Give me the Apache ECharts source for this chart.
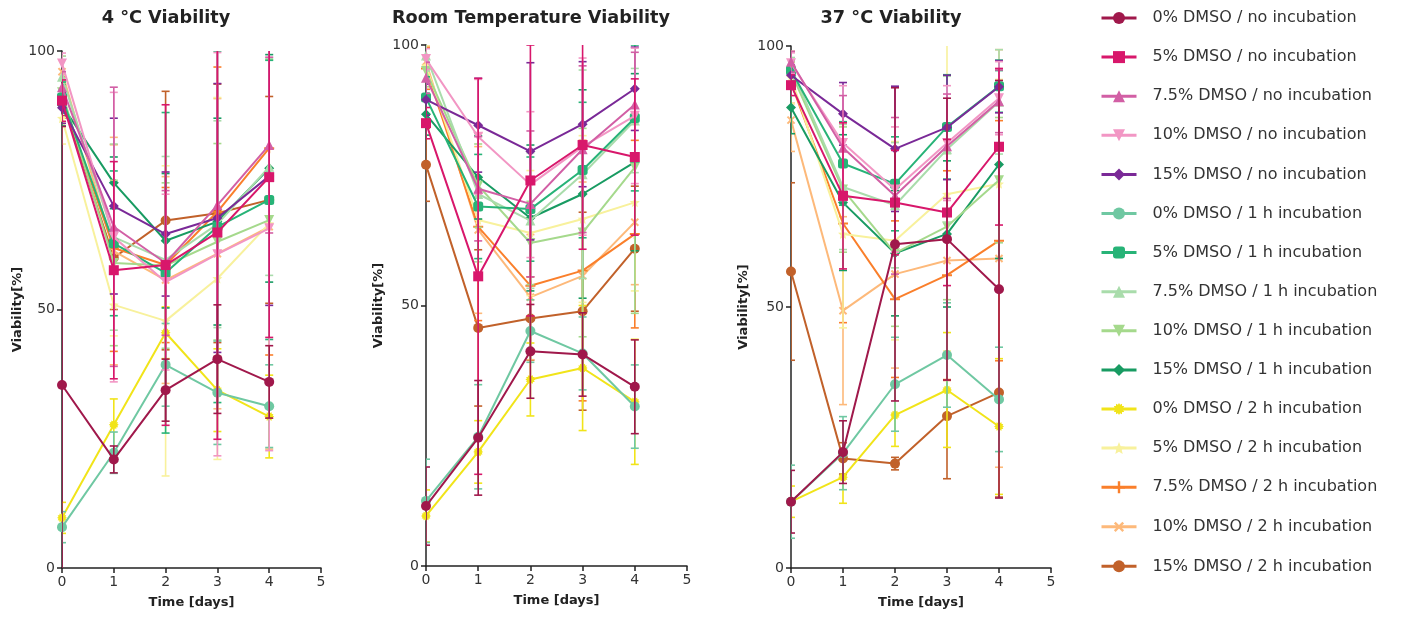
<!DOCTYPE html>
<html><head><meta charset="utf-8">
<script src="https://cdn.jsdelivr.net/npm/echarts@6/dist/echarts.min.js"></script>
<style>html,body{margin:0;padding:0;background:#fff}#c{width:1402px;height:617px}</style>
</head><body><div id="c"></div>
<script>
const days = [0, 1, 2, 3, 4];
const seriesNames = [
  '0% DMSO / no incubation', '5% DMSO / no incubation', '7.5% DMSO / no incubation',
  '10% DMSO / no incubation', '15% DMSO / no incubation',
  '0% DMSO / 1 h incubation', '5% DMSO / 1 h incubation', '7.5% DMSO / 1 h incubation',
  '10% DMSO / 1 h incubation', '15% DMSO / 1 h incubation',
  '0% DMSO / 2 h incubation', '5% DMSO / 2 h incubation', '7.5% DMSO / 2 h incubation',
  '10% DMSO / 2 h incubation', '15% DMSO / 2 h incubation'
];
const panelTitles = ['4 °C Viability', 'Room Temperature Viability', '37 °C Viability'];
const yTicks = [0, 50, 100];
const xTicks = [0, 1, 2, 3, 4, 5];

// 4 °C panel: means and error (±)
const coldMean = [
  [35.4, 21, 34.4, 40.4, 36],
  [90.4, 57.6, 58.6, 64.9, 75.6],
  [93, 66, 59, 70.2, 81.8],
  [97.6, 64, 55.3, 60.7, 65.7],
  [89, 70, 64.6, 67.7, 75.8],
  [7.9, 22.3, 39.3, 33.9, 31.3],
  [91, 62.8, 57.1, 66, 71.2],
  [95, 64, 59.6, 66.5, 77.6],
  [92, 59, 58.5, 63.1, 67.3],
  [89.5, 74.5, 63.3, 67, 77.3],
  [9.7, 27.7, 45.5, 34.4, 29.3],
  [87, 50.9, 47.8, 56, 66.6],
  [91, 61.9, 58.6, 68.9, 81.2],
  [96, 61.3, 55.7, 60.8, 66],
  [90.5, 60, 67.2, 68.6, 71.2]
];
const coldErr = [
  [50, 2.6, 6, 10.5, 7],
  [4, 21, 31, 40, 31],
  [3, 27, 14, 30, 17],
  [2, 28, 17, 39, 43],
  [3, 17, 12, 26, 25],
  [3, 4, 8, 10, 8],
  [3, 14, 31, 34, 27],
  [4, 18, 20, 20, 21],
  [4, 16, 16, 19, 31],
  [4, 5, 13, 20, 22],
  [3, 5, 5, 8, 8],
  [5, 6, 30, 35, 35],
  [4, 20, 15, 28, 40],
  [3, 22, 20, 30, 43],
  [3, 10, 25, 25, 20]
];
// Room temperature panel
const rtMean = [
  [11.5, 24.6, 41.2, 40.6, 34.4],
  [85, 55.6, 74, 80.8, 78.5],
  [93.7, 72.4, 69.5, 80, 88.6],
  [97.3, 82.4, 73.2, 80.5, 86.4],
  [89.5, 84.6, 79.6, 84.8, 91.6],
  [12.5, 24.8, 45.1, 40.8, 30.6],
  [89.9, 69, 68.5, 76, 86],
  [98, 71.4, 66.3, 75.2, 85.5],
  [95, 73, 62, 64, 76.5],
  [86.7, 74.6, 66.8, 71.4, 77.5],
  [9.6, 21.9, 35.8, 38, 31.5],
  [96, 66.4, 63.9, 66.6, 69.8],
  [95.5, 65.1, 53.8, 56.7, 63.7],
  [96.8, 64.5, 51.6, 55.7, 66],
  [77, 45.7, 47.5, 48.9, 60.9]
];
const rtErr = [
  [7.5, 11, 9, 8, 9],
  [3, 38, 26, 20, 15],
  [3, 10, 14, 16, 10],
  [2, 11, 14, 17, 13],
  [3, 9, 17, 12, 8],
  [8, 10, 6, 7, 8],
  [4, 10, 10, 13, 14],
  [3, 13, 13, 20, 10],
  [3, 8, 8, 20, 28],
  [4, 8, 14, 20, 17],
  [5, 6, 7, 12, 12],
  [4, 8, 12, 16, 17],
  [4, 18, 13, 25, 18],
  [3, 16, 12, 18, 12],
  [7, 15, 8, 19, 12]
];
// 37 °C panel
const warmMean = [
  [12.7, 22.2, 62, 63, 53.4],
  [92.5, 71.3, 70, 68.1, 80.7],
  [97, 80.5, 71.3, 80.8, 89.4],
  [96.7, 81.4, 72.5, 81.4, 90],
  [94.4, 87, 80.3, 84.4, 92.2],
  [12.7, 22, 35.2, 40.8, 32.3],
  [95.3, 77.5, 73.6, 84.5, 92.3],
  [95.8, 73, 69.5, 80.2, 89.3],
  [95, 72.5, 60.3, 65.4, 74.3],
  [88.2, 70, 60.3, 64, 77.3],
  [12.7, 17.4, 29.3, 34.1, 27.1],
  [94, 64, 62.7, 71.6, 73.6],
  [93, 66, 51.5, 56.1, 62.7],
  [85.8, 49.3, 56.3, 58.9, 59.3],
  [56.8, 21, 20, 29.1, 33.6]
];
const warmErr = [
  [6, 6, 30, 27, 40],
  [2, 14, 10, 14, 15],
  [2, 10, 15, 10, 6],
  [2, 11, 12, 11, 7],
  [2, 6, 12, 10, 5],
  [7, 7, 9, 10, 10],
  [2, 8, 9, 10, 5],
  [2, 12, 12, 14, 10],
  [2, 12, 14, 14, 12],
  [5, 13, 12, 14, 18],
  [3, 5, 6, 11, 13],
  [5, 18, 19, 30, 20],
  [4, 19, 15, 20, 23],
  [6, 18, 18, 23, 40],
  [17, 3, 1.2, 12, 20]
];

const colors = ['#a0184b', '#d8176b', '#d25fa5', '#f296c4', '#7a2997',
  '#6fc8a2', '#27b377', '#a9dcab', '#a5d98c', '#189b62',
  '#f1e419', '#f8f19c', '#fa7f2b', '#fdb97a', '#c1612a'];

function starPath(n, ri) {
  let d = '';
  for (let k = 0; k < 2 * n; k++) {
    const r = k % 2 === 0 ? 10 : 10 * ri;
    const a = Math.PI * k / n - Math.PI / 2;
    d += (k === 0 ? 'M' : 'L') + (10 + r * Math.cos(a)).toFixed(2) + ',' + (10 + r * Math.sin(a)).toFixed(2);
  }
  return 'path://' + d + 'Z';
}
const plusPath = 'path://M8,0h4v8h8v4h-8v8h-4v-8h-8v-4h8z';
const symbols = ['circle', 'rect', 'triangle', 'triangle', 'diamond',
  'circle', 'roundRect', 'triangle', 'triangle', 'diamond',
  starPath(12, 0.72), starPath(5, 0.45), plusPath, plusPath, 'circle'];
const rotates = [0, 0, 0, 180, 0, 0, 0, 0, 180, 0, 0, 0, 0, 45, 0];

const panels = [
  {mean: coldMean, err: coldErr, left: 62, width: 259, top: 51, height: 517, titleX: 161, nameGap: 38},
  {mean: rtMean, err: rtErr, left: 426, width: 261, top: 45, height: 521, titleX: 526, nameGap: 41},
  {mean: warmMean, err: warmErr, left: 791, width: 260, top: 46, height: 522, titleX: 886, nameGap: 41}
];

const FONT = 'DejaVu Sans';
const axisCommon = {
  axisLine: {show: true, lineStyle: {color: '#222', width: 1.5}},
  axisTick: {show: true, length: 5, lineStyle: {color: '#222', width: 1.5}},
  axisLabel: {color: '#333', fontSize: 14, fontFamily: FONT, margin: 7},
  splitLine: {show: false},
  nameTextStyle: {color: '#222', fontSize: 13, fontWeight: 'bold', fontFamily: FONT}
};

const grid = [], xAxis = [], yAxis = [], series = [], title = [];
panels.forEach((p, pi) => {
  grid.push({left: p.left, width: p.width, top: p.top, height: p.height});
  title.push({text: panelTitles[pi], left: p.titleX, top: 4, textAlign: 'center',
    textStyle: {fontSize: 17.7, fontWeight: 'bold', color: '#222', fontFamily: FONT}});
  xAxis.push(Object.assign({}, axisCommon, {
    type: 'value', gridIndex: pi, min: xTicks[0], max: xTicks[xTicks.length - 1], interval: 1,
    name: 'Time [days]', nameLocation: 'middle', nameGap: 28
  }));
  yAxis.push(Object.assign({}, axisCommon, {
    type: 'value', gridIndex: pi, min: yTicks[0], max: yTicks[yTicks.length - 1], interval: 50,
    name: 'Viability[%]', nameLocation: 'middle', nameGap: p.nameGap
  }));
  seriesNames.forEach((nm, si) => {
    const col = colors[si];
    const mean = p.mean[si], err = p.err[si];
    series.push({
      type: 'custom', name: nm + ' (SD)', xAxisIndex: pi, yAxisIndex: pi, clip: true, silent: true,
      z: 40 - si,
      data: days.map((d, k) => [d, mean[k] - err[k], mean[k] + err[k]]),
      encode: {x: 0, y: [1, 2]},
      renderItem: (params, api) => {
        const x = api.value(0);
        const lo = api.coord([x, api.value(1)]);
        const hi = api.coord([x, api.value(2)]);
        const w = 4;
        const st = {stroke: col, lineWidth: 1.6, fill: null};
        return {type: 'group', children: [
          {type: 'line', shape: {x1: lo[0], y1: lo[1], x2: hi[0], y2: hi[1]}, style: st},
          {type: 'line', shape: {x1: lo[0] - w, y1: lo[1], x2: lo[0] + w, y2: lo[1]}, style: st},
          {type: 'line', shape: {x1: hi[0] - w, y1: hi[1], x2: hi[0] + w, y2: hi[1]}, style: st}
        ]};
      }
    });
    series.push({
      type: 'line', name: nm, xAxisIndex: pi, yAxisIndex: pi,
      data: days.map((d, k) => [d, mean[k]]),
      symbol: symbols[si], symbolRotate: rotates[si], symbolSize: 10,
      showAllSymbol: true, z: 40 - si,
      lineStyle: {color: col, width: 2},
      itemStyle: {color: col},
      emphasis: {disabled: true}
    });
  });
});

const chart = echarts.init(document.getElementById('c'), null, {renderer: 'canvas'});
chart.setOption({
  animation: false,
  backgroundColor: '#fff',
  color: colors,
  title: title,
  grid: grid, xAxis: xAxis, yAxis: yAxis,
  legend: {
    data: seriesNames, orient: 'vertical', left: 1095, top: 5,
    itemWidth: 35, itemHeight: 15, itemGap: 23.1,
    lineStyle: {width: 3},
    textStyle: {fontSize: 16, color: '#333', fontFamily: FONT, padding: [0, 0, 0, 11]},
    selectedMode: false
  },
  series: series
});
</script>
</body></html>
